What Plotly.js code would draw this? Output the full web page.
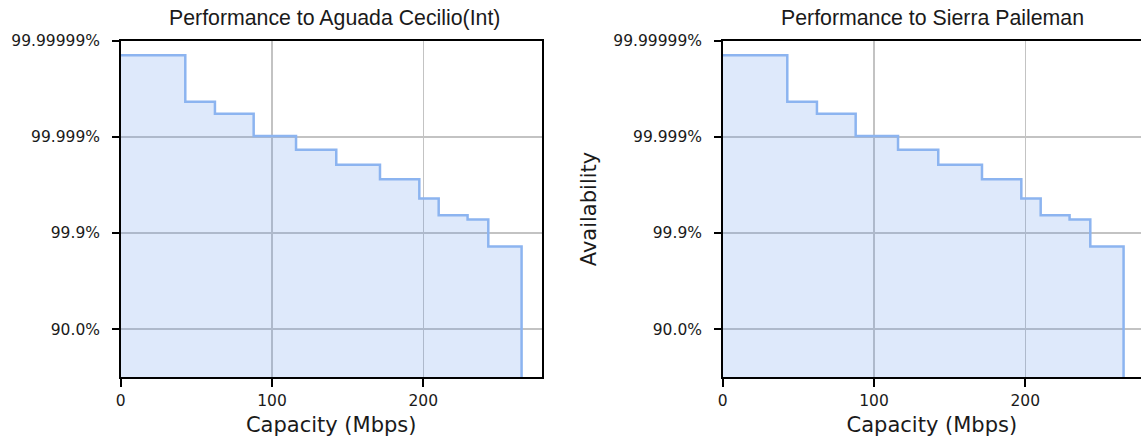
<!DOCTYPE html>
<html>
<head>
<meta charset="utf-8">
<script src="https://cdn.plot.ly/plotly-3.0.1.min.js"></script>
<style>html,body{margin:0;padding:0;background:#fff;}</style>
</head>
<body>
<div id="chart" style="width:1141px;height:437px;"></div>
<script>
// Capacity (Mbps) at each step, and availability expressed as "nines" = -log10(1 - availability)
const capacityLeft = [0, 42.7, 62.3, 87.9, 115.9, 142.5, 171.4, 197.4, 210.2, 229.3, 243.0, 265.0];
const ninesLeft    = [6.70, 5.73, 5.48, 5.02, 4.73, 4.42, 4.12, 3.72, 3.37, 3.28, 2.72, 0];
const capacityRight = [0, 42.7, 62.3, 87.9, 115.9, 142.5, 171.4, 197.4, 210.2, 229.3, 243.0, 265.0];
const ninesRight    = [6.70, 5.73, 5.48, 5.02, 4.73, 4.42, 4.12, 3.72, 3.37, 3.28, 2.72, 0];
const yTickVals = [1, 3, 5, 7];
const yTickText = ['90.0%', '99.9%', '99.999%', '99.99999%'];
const xTickVals = [0, 100, 200];
const titles = ['Performance to Aguada Cecilio(Int)', 'Performance to Sierra Paileman'];

const W = 1141, H = 437;
const lineColor = 'rgb(140,180,240)';
const fillColor = 'rgba(100,149,237,0.21)';
const tickFont = {family: 'DejaVu Sans', size: 15.5, color: '#1a1a1a'};
const titleFont = {family: 'DejaVu Sans', size: 21, color: '#1a1a1a'};

function trace(x, y, xa, ya) {
  return {x: x, y: y, xaxis: xa, yaxis: ya, type: 'scatter', mode: 'lines',
    line: {shape: 'hv', color: lineColor, width: 2.5},
    fill: 'tozeroy', fillcolor: fillColor, hoverinfo: 'skip', showlegend: false};
}
const yDom = [1 - 377.3 / H, 1 - 40.7 / H];
const commonX = {
  tickvals: xTickVals, showgrid: true, gridcolor: 'rgb(195,195,195)', gridwidth: 1.5,
  showline: true, linecolor: '#000', linewidth: 2, mirror: true,
  ticks: 'outside', ticklen: 8, tickwidth: 2, tickcolor: '#000', zeroline: false,
  tickfont: tickFont, fixedrange: true
};
// label-carrying y axes: long invisible ticks push the labels away from the spine
const commonY = {
  range: [0, 7], tickvals: yTickVals, ticktext: yTickText, domain: yDom,
  showgrid: true, gridcolor: 'rgb(195,195,195)', gridwidth: 1.5,
  showline: true, linecolor: '#000', linewidth: 2,
  ticks: 'outside', ticklen: 15.6, tickwidth: 2, tickcolor: 'rgba(0,0,0,0)', zeroline: false,
  tickfont: tickFont, fixedrange: true
};
// tick-mark-only overlay y axes
const tickOnlyY = {
  range: [0, 7], tickvals: yTickVals, showticklabels: false, showgrid: false,
  showline: false, zeroline: false, ticks: 'outside', ticklen: 8, tickwidth: 2,
  tickcolor: '#000', fixedrange: true
};
const x1Dom = [120.7 / W, 541.7 / W];
const x2Dom = [722.7 / W, 1];
const pxPerUnit = (541.7 - 120.7) / 278.3;
const layout = {
  width: W, height: H, margin: {l: 0, r: 0, t: 0, b: 0},
  paper_bgcolor: '#fff', plot_bgcolor: '#fff', showlegend: false,
  xaxis: Object.assign({}, commonX, {domain: x1Dom, range: [0, 278.3], anchor: 'y',
    title: {text: 'Capacity (Mbps)', font: titleFont}}),
  yaxis: Object.assign({}, commonY, {anchor: 'x', mirror: true}),
  xaxis2: Object.assign({}, commonX, {domain: x2Dom, range: [0, (W - 722.7) / pxPerUnit], anchor: 'y2',
    title: {text: 'Capacity (Mbps)', font: titleFont}}),
  yaxis2: Object.assign({}, commonY, {anchor: 'x2', mirror: false,
    title: {text: 'Availability', font: titleFont, standoff: 11}}),
  yaxis3: Object.assign({}, tickOnlyY, {overlaying: 'y', anchor: 'x'}),
  yaxis4: Object.assign({}, tickOnlyY, {overlaying: 'y2', anchor: 'x2'}),
  annotations: [
    {text: titles[0], xref: 'paper', yref: 'paper', x: 334 / W, y: 1 - 17.8 / H,
      xanchor: 'center', yanchor: 'middle', showarrow: false,
      font: {family: 'Liberation Sans', size: 21.3, color: '#1a1a1a'}},
    {text: titles[1], xref: 'paper', yref: 'paper', x: 932 / W, y: 1 - 17.8 / H,
      xanchor: 'center', yanchor: 'middle', showarrow: false,
      font: {family: 'Liberation Sans', size: 21.3, color: '#1a1a1a'}}
  ]
};
Plotly.newPlot('chart', [
  trace(capacityLeft, ninesLeft, 'x', 'y'),
  trace(capacityRight, ninesRight, 'x2', 'y2'),
  {x: [], y: [], xaxis: 'x', yaxis: 'y3', type: 'scatter', mode: 'lines', showlegend: false, hoverinfo: 'skip'},
  {x: [], y: [], xaxis: 'x2', yaxis: 'y4', type: 'scatter', mode: 'lines', showlegend: false, hoverinfo: 'skip'}
], layout, {staticPlot: true, displayModeBar: false});
</script>
</body>
</html>
